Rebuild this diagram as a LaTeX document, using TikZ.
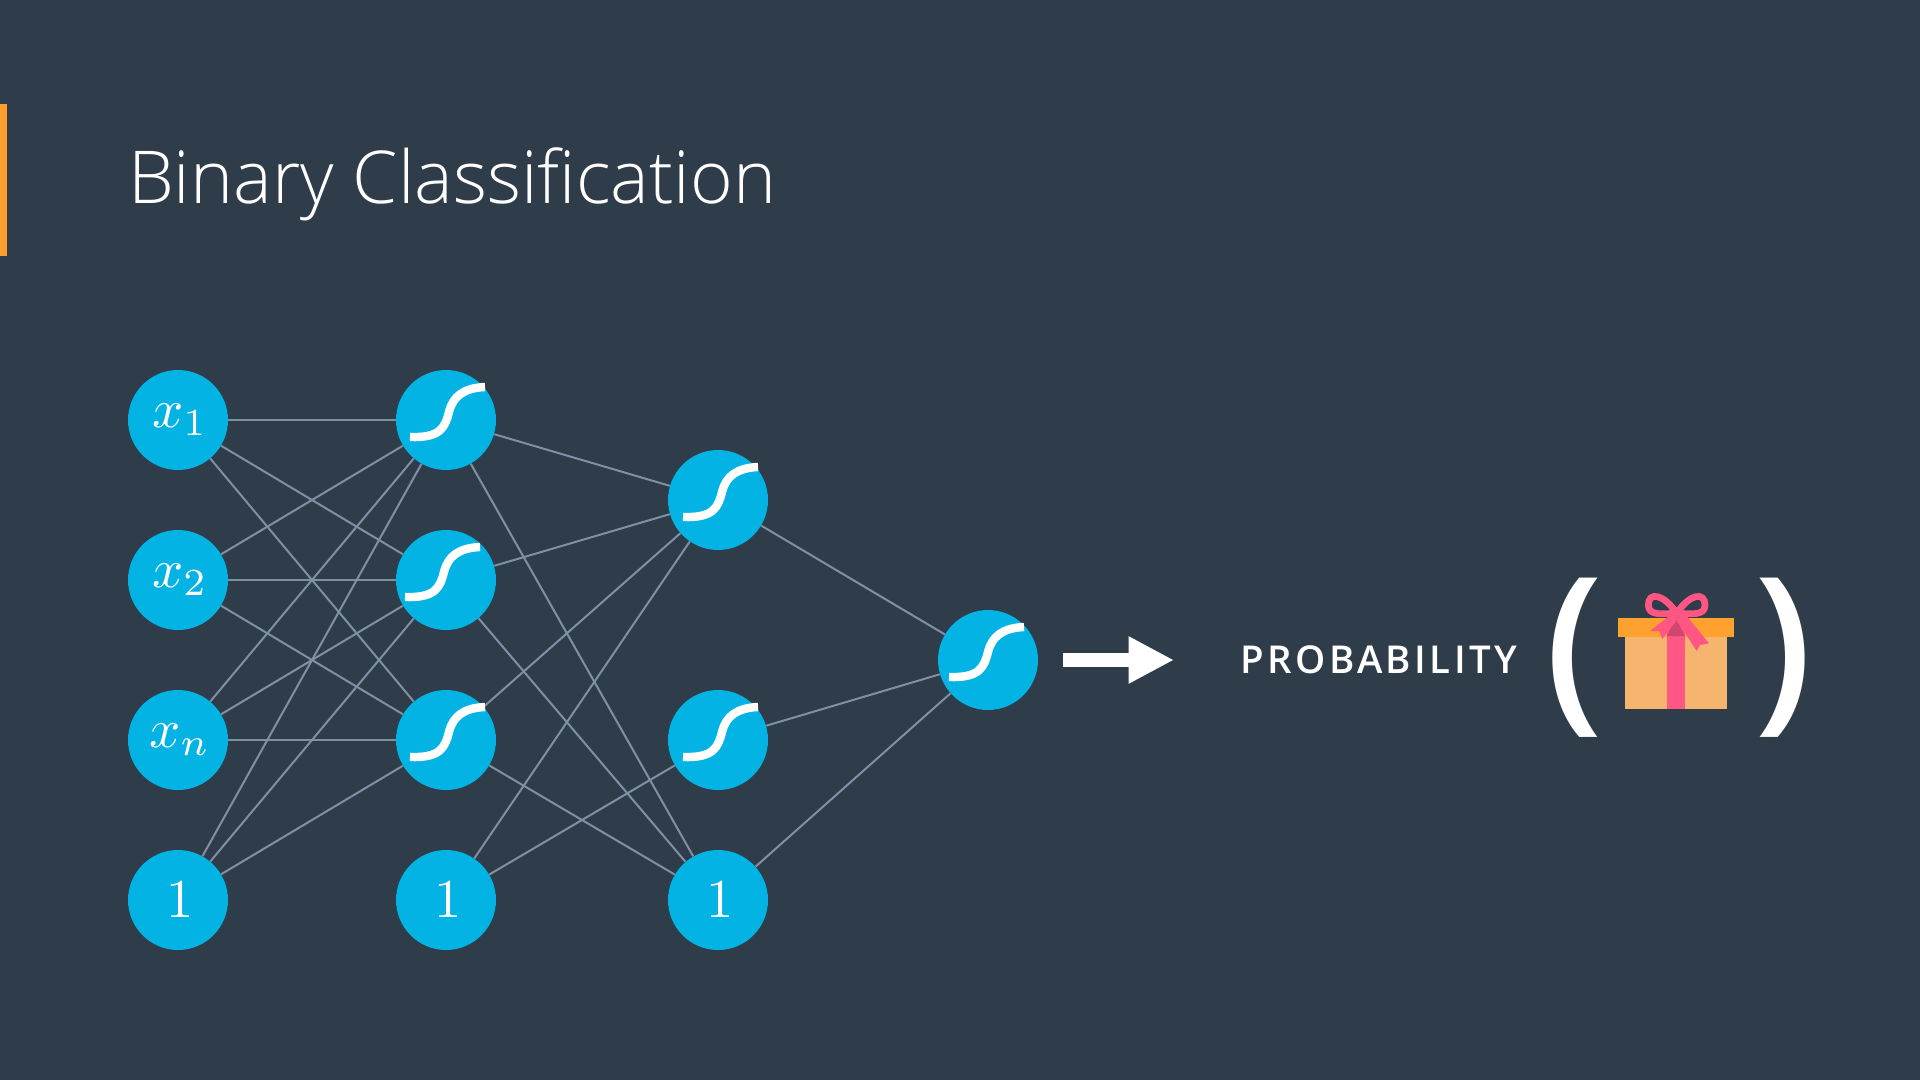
\documentclass[tikz,border=0pt]{standalone}
\usepackage{fontspec}
\usepackage{xcolor}
\usetikzlibrary{arrows.meta}
\newfontfamily\titlefont{Open Sans Light}
\newfontfamily\labelfont[LetterSpace=9]{Open Sans Semibold}
\newfontfamily\parenfont{Open Sans Semibold}
\definecolor{slidebg}{HTML}{2F3C4A}
\definecolor{unitblue}{HTML}{02B3E4}
\definecolor{linkgrey}{HTML}{8090A3}
\definecolor{barorange}{HTML}{FF9E2C}
\definecolor{lidorange}{HTML}{FFA12E}
\definecolor{boxorange}{HTML}{F6B56E}
\definecolor{ribbonpink}{HTML}{FF5684}
\definecolor{ribbondark}{HTML}{D1466F}
\tikzset{
  unit/.style={circle,fill=unitblue,text=white,inner sep=0,minimum size=75pt},
  link/.style={draw=linkgrey,line width=1.5pt},
  sigline/.style={draw=white,line width=6.3pt},
}
\newcommand{\unitlabel}[1]{\hspace{3pt}\scalebox{4.1}{$#1$}}
\newcommand{\sigcurve}[2]{
  \draw[sigline,shift={(#1)},xshift=#2*.75pt] (-36,17) .. controls (-6,18) and (-1,8) .. (3,-8)
    .. controls (7,-24) and (18,-32) .. (39,-33);
}

\begin{document}
\begin{tikzpicture}[x=.75pt,y=-.75pt]
  \useasboundingbox (0,0) rectangle (1920,1080);
  \fill[slidebg] (0,0) rectangle (1920,1080);
  \fill[barorange] (0,104) rectangle (7,256);

  \node (title) [anchor=base west,inner sep=0,text=white,
    font=\titlefont\fontsize{54.7}{60}\selectfont] at (128,204) {Binary Classification};

  \node (x1) [unit] at (178,420) {\unitlabel{x_1}};
  \node (x2) [unit] at (178,580) {\unitlabel{x_2}};
  \node (xn) [unit] at (178,740) {\unitlabel{x_n}};
  \node (b1) [unit] at (178,900) {\unitlabel{1}};
  \node (s1) [unit] at (446,420) {};
  \node (s2) [unit] at (446,580) {};
  \node (s3) [unit] at (446,740) {};
  \node (b2) [unit] at (446,900) {\unitlabel{1}};
  \node (t1) [unit] at (718,500) {};
  \node (t2) [unit] at (718,740) {};
  \node (b3) [unit] at (718,900) {\unitlabel{1}};
  \node (u1) [unit] at (988,660) {};
  \node (prob) [anchor=west,inner sep=0,text=white,
    font=\labelfont\fontsize{28.8}{32}\selectfont] at (1240,660) {PROBABILITY};

  \draw[link] (x1) -- (s1);
  \draw[link] (x1) -- (s2);
  \draw[link] (x1) -- (s3);
  \draw[link] (x2) -- (s1);
  \draw[link] (x2) -- (s2);
  \draw[link] (x2) -- (s3);
  \draw[link] (xn) -- (s1);
  \draw[link] (xn) -- (s2);
  \draw[link] (xn) -- (s3);
  \draw[link] (b1) -- (s1);
  \draw[link] (b1) -- (s2);
  \draw[link] (b1) -- (s3);
  \draw[link] (s1) -- (t1);
  \draw[link] (s1) -- (b3);
  \draw[link] (s2) -- (t1);
  \draw[link] (s2) -- (b3);
  \draw[link] (s3) -- (t1);
  \draw[link] (s3) -- (b3);
  \draw[link] (b2) -- (t1);
  \draw[link] (b2) -- (t2);
  \draw[link] (t1) -- (u1);
  \draw[link] (t2) -- (u1);
  \draw[link] (b3) -- (u1);

  \sigcurve{s1}{0}
  \sigcurve{s2}{-5}
  \sigcurve{s3}{0}
  \sigcurve{t1}{1}
  \sigcurve{t2}{1}
  \sigcurve{u1}{-3}

  \draw[white,line width=10.5pt,-{Triangle[length=34pt,width=33pt]},
    shorten <=18.75pt,shorten >=49.5pt] (u1.east) -- (prob.west);

  \node (lparen) [inner sep=0,text=white,
    font=\parenfont\fontsize{137}{150}\selectfont] at (1574,658) {(};
  \node (rparen) [inner sep=0,text=white,
    font=\parenfont\fontsize{137}{150}\selectfont] at (1783,658) {)};

  \begin{scope}[shift={(1500,550)},x=.25pt,y=-.25pt]
    \fill[boxorange] (374,260) rectangle (681,476);
    \fill[lidorange] (353,205) rectangle (702,260);
    \fill[ribbonpink] (500,205) rectangle (555,476);
    \fill[ribbondark] (527,205) -- (500,258) -- (555,258) -- cycle;
    \draw[ribbonpink,line width=5pt] (530,190)
      .. controls (490,130) and (445,125) .. (445,165)
      .. controls (445,200) and (490,190) .. (530,190)
      .. controls (570,190) and (615,200) .. (615,165)
      .. controls (615,125) and (570,130) .. (530,190);
    \fill[ribbonpink] (518,190) -- (450,243) -- (478,243) -- (487,267) -- (530,210)
      -- (590,303) -- (600,285) -- (627,280) -- (545,180) -- cycle;
  \end{scope}
\end{tikzpicture}
\end{document}
